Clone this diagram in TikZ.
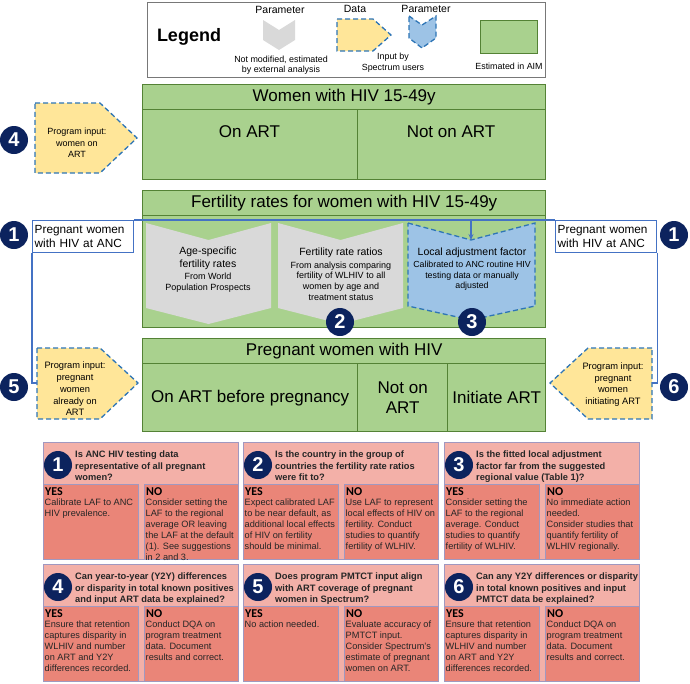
\documentclass[tikz,border=0pt]{standalone}
\usepackage{fontspec}
\setmainfont{Liberation Sans}
\newfontfamily\calfont{Carlito}
\usetikzlibrary{arrows.meta}

\definecolor{aimgreen}{RGB}{169,209,142}
\definecolor{aimdark}{RGB}{84,130,53}
\definecolor{paramgray}{RGB}{217,217,217}
\definecolor{datayellow}{RGB}{255,230,153}
\definecolor{parblue}{RGB}{157,195,230}
\definecolor{dashblue}{RGB}{46,117,182}
\definecolor{ancblue}{RGB}{68,114,196}
\definecolor{navy}{RGB}{12,35,94}
\definecolor{qpink}{RGB}{243,176,168}
\definecolor{anspink}{RGB}{234,133,120}
\definecolor{qedge}{RGB}{160,152,192}
\definecolor{legendgray}{RGB}{120,120,120}

\tikzset{
  aimcell/.style={draw=aimdark, fill=aimgreen, line width=1.4pt, anchor=north west, inner sep=0pt},
  bigtxt/.style={font=\fontsize{17}{20}\selectfont, align=center},
  midtxt/.style={font=\fontsize{10.5}{13}\selectfont, align=center},
  smalltxt/.style={font=\fontsize{8.9}{10.6}\selectfont, align=center},
  inputtxt/.style={font=\fontsize{9.3}{11.8}\selectfont, align=center},
  dataline/.style={draw=dashblue, line width=1.3pt, dash pattern=on 5pt off 3pt},
  datashape/.style={dataline, fill=datayellow},
  lafshape/.style={dataline, fill=parblue},
  legendbox/.style={draw=legendgray, line width=0.9pt, anchor=north west, minimum width=398pt, minimum height=75pt},
  numdot/.style={circle, fill=navy, text=white, minimum size=28pt, inner sep=0pt,
    font=\bfseries\fontsize{20}{20}\selectfont},
  ancline/.style={draw=ancblue, line width=1.4pt},
  ancbox/.style={ancline, fill=white, anchor=north west, align=left, text width=97pt,
    inner xsep=2pt, minimum height=32pt, font=\fontsize{11.8}{14}\selectfont},
  qhead/.style={fill=qpink, draw=qedge, line width=0.8pt, anchor=north west, inner sep=0pt},
  ansbox/.style={fill=anspink, draw=qedge, line width=0.8pt, anchor=north west, inner sep=0pt,
    minimum height=75pt},
  qtxt/.style={anchor=north west, inner sep=0pt, align=left, text=black!85,
    font=\bfseries\fontsize{9.3}{11.2}\selectfont},
  anstitle/.style={anchor=west, inner sep=0pt, font=\calfont\bfseries\fontsize{12}{12}\selectfont},
  anstxt/.style={anchor=north west, inner sep=0pt, align=left, text=black!85,
    font=\fontsize{9.2}{10.9}\selectfont}
}

% question panel: name, x, y, number, question, yes text, no text
\newcommand{\qpanel}[7]{%
  \node[qhead, minimum width=195pt, minimum height=117pt] (#1) at (#2,#3) {};
  \node[numdot] (#1-num) at (#2+15,#3+23) {#4};
  \node[qtxt] (#1-q) at (#2+32,#3+9) {#5};
  \node[ansbox, minimum width=95pt] (#1-yes) at (#2,#3+42) {};
  \node[ansbox, minimum width=94pt] (#1-no) at (#2+101,#3+42) {};
  \node[anstitle] (#1-yest) at (#2+2,#3+50) {YES};
  \node[anstitle] (#1-not) at (#2+103,#3+50) {NO};
  \node[anstxt] (#1-yesb) at (#2+1.5,#3+57) {#6};
  \node[anstxt] (#1-nob) at (#2+102.5,#3+57) {#7};
}

\begin{document}
\begin{tikzpicture}[x=1pt, y=-1pt]
  \useasboundingbox (0,0) rectangle (690,683);

  % legend
  \node[legendbox] (legend) at (147,2) {};
  \node[font=\bfseries\fontsize{18}{20}\selectfont] (legtitle) at (189,37) {Legend};
  \fill[paramgray] (263,20) -- (279,30) -- (295,20) -- (295,40) -- (279,50) -- (263,40) -- cycle;
  \node[midtxt] (legpar) at (280,10) {Parameter};
  \node[smalltxt] (legext) at (281,65) {Not modified, estimated\\by external analysis};
  \draw[datashape] (337,19) -- (373,19) -- (391,35) -- (373,51) -- (337,51) -- cycle;
  \node[midtxt] (legdata) at (355,9) {Data};
  \draw[lafshape] (409,16) -- (422,25) -- (436,16) -- (436,38) -- (422,48) -- (409,38) -- cycle;
  \node[midtxt] (leglaf) at (426,9) {Parameter};
  \node[smalltxt] (leguser) at (393,62.5) {Input by\\Spectrum users};
  \node[aimcell, minimum width=57pt, minimum height=33pt] (legaim) at (480,20) {};
  \node[smalltxt] (legaimtxt) at (509,66) {Estimated in AIM};

  % women with HIV
  \node[aimcell, bigtxt, minimum width=403pt, minimum height=25pt] (women) at (142,84) {Women with HIV 15-49y};
  \node[aimcell, minimum width=215pt, minimum height=70pt] (wart) at (142,109) {};
  \node[aimcell, minimum width=188pt, minimum height=70pt] (wnoart) at (357,109) {};
  \node[bigtxt] (wart-t) at (249.5,132) {On ART};
  \node[bigtxt] (wnoart-t) at (451,132) {Not on ART};

  % fertility rates
  \node[aimcell, minimum width=403pt, minimum height=137pt] (fert) at (142,190) {};
  \node[aimcell, bigtxt, minimum width=403pt, minimum height=25pt] (fert-t) at (142,190) {Fertility rates for women with HIV 15-49y};
  \fill[paramgray] (146,223) -- (208.5,240) -- (271,223) -- (271,308) -- (208.5,324) -- (146,308) -- cycle;
  \fill[paramgray] (278,223) -- (340.5,240) -- (403,223) -- (403,308) -- (340.5,324) -- (278,308) -- cycle;
  \draw[lafshape] (408,223) -- (471,240) -- (535,223) -- (535,306) -- (471,320) -- (408,306) -- cycle;
  \node[midtxt] (asfr) at (208,258.5) {Age-specific\\fertility rates};
  \node[inputtxt, font=\fontsize{9}{10.6}\selectfont] (asfr-s) at (208,282.5) {From World\\Population Prospects};
  \node[midtxt] (frr) at (341,253) {Fertility rate ratios};
  \node[inputtxt, font=\fontsize{9}{10.7}\selectfont] (frr-s) at (341,281) {From analysis comparing\\fertility of WLHIV to all\\women by age and\\treatment status};
  \node[midtxt] (laf) at (472,253) {Local adjustment factor};
  \node[inputtxt, font=\fontsize{8.8}{10.7}\selectfont] (laf-s) at (472,276) {Calibrated to ANC routine HIV\\testing data or manually\\adjusted};
  \node[numdot] (n2) at (340,322) {2};
  \node[numdot] (n3) at (472,322) {3};

  % pregnant women
  \node[aimcell, bigtxt, minimum width=403pt, minimum height=25pt] (preg) at (142,338) {Pregnant women with HIV};
  \node[aimcell, bigtxt, minimum width=215pt, minimum height=68pt] (pon) at (142,363) {On ART before pregnancy};
  \node[aimcell, bigtxt, minimum width=90pt, minimum height=68pt] (pnot) at (357,363) {Not on\\ART};
  \node[aimcell, bigtxt, minimum width=98pt, minimum height=68pt] (pinit) at (447,363) {Initiate ART};

  % program inputs
  \draw[datashape] (35,103) -- (100,103) -- (137,138) -- (100,173) -- (35,173) -- cycle;
  \node[inputtxt, font=\fontsize{9}{11.3}\selectfont] (in4) at (77,143) {Program input:\\women on\\ART};
  \draw[datashape] (37,348) -- (100,348) -- (138,383) -- (100,419) -- (37,419) -- cycle;
  \node[inputtxt] (in5) at (75,389) {Program input:\\pregnant\\women\\already on\\ART};
  \draw[datashape] (652,348) -- (588,348) -- (550,383) -- (588,419) -- (652,419) -- cycle;
  \node[inputtxt] (in6) at (613,384.5) {Program input:\\pregnant\\women\\initiating ART};

  % ANC data
  \node[ancbox] (ancL) at (32,220) {Pregnant women\\with HIV at ANC};
  \node[ancbox] (ancR) at (555,220) {Pregnant women\\with HIV at ANC};
  \coordinate (lafnotch) at (471,240);
  \coordinate (in5w) at (37,383);
  \coordinate (in6e) at (652,383);
  \draw[ancline] (ancL.north east) -- (ancR.north west);
  \draw[ancline, -{Stealth[length=6pt, width=5pt]}] (ancL.north east -| lafnotch) -- (lafnotch);
  \draw[ancline] (ancL.south west) |- (in5w);
  \draw[ancline] (ancR.south east) |- (in6e);

  \node[numdot] (n4) at (14,140) {4};
  \node[numdot] (n1L) at (14,235) {1};
  \node[numdot] (n5) at (14,387) {5};
  \node[numdot] (n1R) at (674,235) {1};
  \node[numdot] (n6) at (674,387) {6};

  % questions
  \qpanel{q1}{43}{442}{1}{Is ANC HIV testing data\\representative of all pregnant\\women?}
    {Calibrate LAF to ANC\\HIV prevalence.}
    {Consider setting the\\LAF to the regional\\average OR leaving\\the LAF at the default\\(1). See suggestions\\in 2 and 3.}
  \qpanel{q2}{243}{442}{2}{Is the country in the group of\\countries the fertility rate ratios\\were fit to?}
    {Expect calibrated LAF\\to be near default, as\\additional local effects\\of HIV on fertility\\should be minimal.}
    {Use LAF to represent\\local effects of HIV on\\fertility. Conduct\\studies to quantify\\fertility of WLHIV.}
  \qpanel{q3}{444}{442}{3}{Is the fitted local adjustment\\factor far from the suggested\\regional value (Table 1)?}
    {Consider setting the\\LAF to the regional\\average. Conduct\\studies to quantify\\fertility of WLHIV.}
    {No immediate action\\needed.\\Consider studies that\\quantify fertility of\\WLHIV regionally.}
  \qpanel{q4}{43}{564}{4}{Can year-to-year (Y2Y) differences\\or disparity in total known positives\\and input ART data be explained?}
    {Ensure that retention\\captures disparity in\\WLHIV and number\\on ART and Y2Y\\differences recorded.}
    {Conduct DQA on\\program treatment\\data. Document\\results and correct.}
  \qpanel{q5}{243}{564}{5}{Does program PMTCT input align\\with ART coverage of pregnant\\women in Spectrum?}
    {No action needed.}
    {Evaluate accuracy of\\PMTCT input.\\Consider Spectrum's\\estimate of pregnant\\women on ART.}
  \qpanel{q6}{444}{564}{6}{Can any Y2Y differences or disparity\\in total known positives and input\\PMTCT data be explained?}
    {Ensure that retention\\captures disparity in\\WLHIV and number\\on ART and Y2Y\\differences recorded.}
    {Conduct DQA on\\program treatment\\data. Document\\results and correct.}
\end{tikzpicture}
\end{document}
